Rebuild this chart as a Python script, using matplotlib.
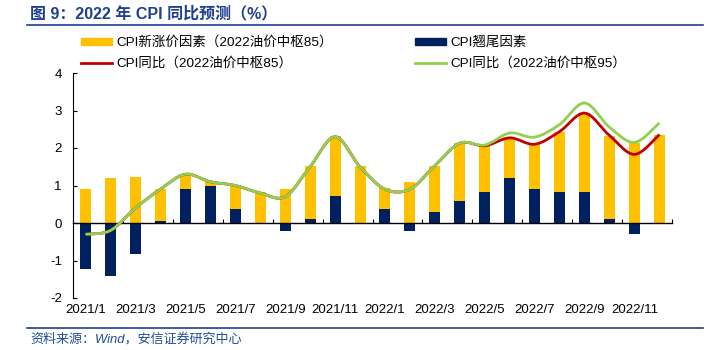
import matplotlib
matplotlib.use("Agg")
import matplotlib.pyplot as plt
from matplotlib.path import Path
from matplotlib.patches import PathPatch, Patch
from matplotlib.lines import Line2D
import numpy as np

plt.rcParams['font.family'] = ['Liberation Sans', 'Noto Sans CJK SC', 'DejaVu Sans']

months = [f"2021/{m}" for m in range(1, 13)] + [f"2022/{m}" for m in range(1, 13)]
tick_labels = months[::2]

# CPI翘尾因素
carryover = [-1.22, -1.40, -0.83, 0.06, 0.91, 1.00, 0.38, -0.02, -0.21, 0.10, 0.71, 0.00,
             0.38, -0.21, 0.29, 0.59, 0.82, 1.20, 0.91, 0.82, 0.82, 0.10, -0.30, 0.00]
# CPI新涨价因素（2022油价中枢85）
new_factor = [0.91, 1.21, 1.24, 0.85, 0.40, 0.11, 0.63, 0.82, 0.92, 1.43, 1.62, 1.53,
              0.55, 1.10, 1.24, 1.54, 1.24, 1.07, 1.19, 1.62, 2.11, 2.23, 2.13, 2.36]
# CPI同比（2022油价中枢85）
cpi85 = [-0.3, -0.2, 0.4, 0.9, 1.3, 1.1, 1.0, 0.8, 0.7, 1.5, 2.3, 1.5,
         0.9, 0.9, 1.53, 2.13, 2.06, 2.27, 2.10, 2.44, 2.93, 2.33, 1.83, 2.36]
# CPI同比（2022油价中枢95）
cpi95 = [-0.3, -0.2, 0.4, 0.9, 1.3, 1.1, 1.0, 0.8, 0.7, 1.5, 2.3, 1.5,
         0.9, 0.9, 1.53, 2.13, 2.08, 2.40, 2.29, 2.63, 3.20, 2.55, 2.15, 2.67]

ORANGE = '#FFC000'
NAVY = '#002060'
RED = '#C00000'
GREEN = '#92D050'
BLUE = '#1F3F8F'

fig = plt.figure(figsize=(7.19, 3.5), dpi=100)
ax = fig.add_axes([73/719, 52/350, 599/719, 225/350])

x = np.arange(len(months))
carry = np.array(carryover)
newf = np.array(new_factor)
w = 0.44
ax.bar(x, carry, width=w, color=NAVY, zorder=2)
ax.bar(x, newf, width=w, bottom=np.maximum(carry, 0), color=ORANGE, zorder=2)


def smooth_path(xs, ys):
    pts = np.column_stack([xs, ys]).astype(float)
    n = len(pts)
    verts = [pts[0]]
    codes = [Path.MOVETO]
    for i in range(n - 1):
        p0 = pts[i - 1] if i > 0 else pts[i]
        p1 = pts[i]
        p2 = pts[i + 1]
        p3 = pts[i + 2] if i + 2 < n else pts[i + 1]
        c1 = p1 + (p2 - p0) / 6.0
        c2 = p2 - (p3 - p1) / 6.0
        verts += [c1, c2, p2]
        codes += [Path.CURVE4] * 3
    return Path(verts, codes)


ax.add_patch(PathPatch(smooth_path(x, cpi85), fill=False, edgecolor=RED, lw=2.0, zorder=3))
ax.add_patch(PathPatch(smooth_path(x, cpi95), fill=False, edgecolor=GREEN, lw=2.0, zorder=4))

ax.set_xlim(-0.5, len(months) - 0.5)
ax.set_ylim(-2, 4)
ax.set_yticks(range(-2, 5))
ax.set_yticklabels([str(v) for v in range(-2, 5)], fontsize=9.5)
ax.tick_params(axis='y', direction='in', length=3, width=0.8, pad=8)

for s in ['top', 'right']:
    ax.spines[s].set_visible(False)
ax.spines['left'].set_linewidth(0.8)
ax.spines['bottom'].set_position(('data', 0))
ax.spines['bottom'].set_linewidth(1.0)
ax.set_xticks(np.arange(-0.5, len(months), 2))
ax.set_xticklabels([])
ax.tick_params(axis='x', direction='in', length=3, width=0.8)

sec = ax.secondary_xaxis(0.0)
sec.set_xticks(x[::2])
sec.set_xticklabels(tick_labels, fontsize=9.5)
sec.tick_params(length=0, pad=4)
sec.spines['bottom'].set_visible(False)

handles = [Patch(color=ORANGE), Line2D([], [], color=RED, lw=2),
           Patch(color=NAVY), Line2D([], [], color=GREEN, lw=2)]
labels = ['CPI新涨价因素（2022油价中枢85）', 'CPI同比（2022油价中枢85）',
          'CPI翘尾因素', 'CPI同比（2022油价中枢95）']
fig.legend(handles, labels, ncol=2, frameon=False, fontsize=9.7,
           loc='upper left', bbox_to_anchor=(76/719, 1 - 31/350),
           handlelength=2.3, handleheight=0.5, handletextpad=0.3,
           columnspacing=6.1, labelspacing=0.6, borderaxespad=0)

fig.text(30/719, 1 - 14/350, '图 9：2022 年 CPI 同比预测（%）', fontsize=11.5,
         fontweight='bold', color=BLUE, va='center', ha='left')
fig.add_artist(Line2D([27/719, 703/719], [1 - 25/350, 1 - 25/350], color=BLUE, lw=1.2))
fig.add_artist(Line2D([27/719, 703/719], [1 - 328/350, 1 - 328/350], color=BLUE, lw=1.2))
fig.text(30/719, 1 - 339/350, '资料来源：Wind，安信证券研究中心', fontsize=9.4,
         style='italic', color='#1F4E9A', va='center', ha='left')

fig.savefig('out.png', dpi=100)
